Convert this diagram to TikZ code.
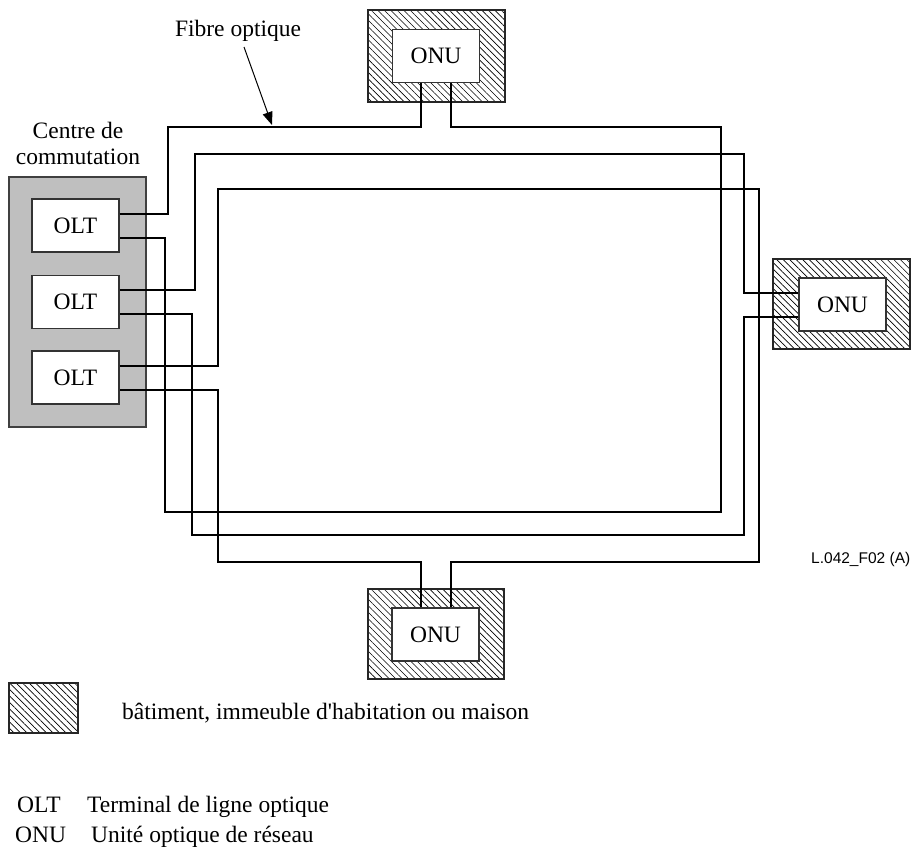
\documentclass[tikz,border=0pt]{standalone}
\usepackage{fontspec}
\setmainfont{Liberation Serif}[Ligatures=TeXOff]
\newfontfamily\arialfont{Liberation Sans}
\usetikzlibrary{patterns.meta,arrows.meta}
\begin{document}
\begin{tikzpicture}[x=1pt,y=-1pt,
  fibre/.style={line width=2pt, black},
  box/.style={draw=black!80, line width=1.3pt, fill=white, inner sep=0pt,
    minimum width=87pt, minimum height=53pt, font=\fontsize{23.5}{26}\selectfont},
  bldg/.style={draw=black!85, line width=1.3pt, inner sep=0pt,
    pattern={Lines[angle=-45,distance=4.6pt,line width=0.65pt]}},
  lbl/.style={font=\fontsize{23.5}{26}\selectfont, inner sep=0pt},
  centre/.style={draw=black!75, line width=1.3pt, fill=black!25, inner sep=0pt}
]
\useasboundingbox (0,0) rectangle (916,849);

% buildings (hatched)
\node[bldg, minimum width=137pt, minimum height=92pt] (bT) at (436.5,56) {};
\node[bldg, minimum width=137pt, minimum height=90pt] (bR) at (841.5,304) {};
\node[bldg, minimum width=136pt, minimum height=90pt] (bB) at (436,634) {};

% switching centre
\node[centre, minimum width=137pt, minimum height=250pt] (cc) at (77.5,302) {};
\node[lbl, align=center] (cctxt) at (78,143) {Centre de\\commutation};

% OLTs
\node[box] (olt1) at (75.5,225.5) {OLT};
\node[box] (olt2) at (75.5,302) {OLT};
\node[box] (olt3) at (75.5,377.5) {OLT};

% ONUs
\node[box] (onuT) at (436,56) {ONU};
\node[box] (onuR) at (842.5,304.5) {ONU};
\node[box] (onuB) at (435.5,634.5) {ONU};

% ring 1
\draw[fibre] ([yshift=12pt]olt1.east) -| (168,127) -| ([xshift=-15pt]onuT.south);
\draw[fibre] ([xshift=15pt]onuT.south) |- (721,127) |- (165,512) |- ([yshift=-12pt]olt1.east);
% ring 2
\draw[fibre] ([yshift=12pt]olt2.east) -| (195,154) -- (744,154) |- ([yshift=12pt]onuR.west);
\draw[fibre] ([yshift=-12pt]onuR.west) -| (744,535) -- (192,535) |- ([yshift=-12pt]olt2.east);
% ring 3
\draw[fibre] ([yshift=12pt]olt3.east) -| (218,189) -- (759,189) -- (759,562) -| ([xshift=15pt]onuB.north);
\draw[fibre] ([xshift=-15pt]onuB.north) |- (218,562) |- ([yshift=-12pt]olt3.east);

% fibre label
\node[lbl] (fo) at (238,31) {Fibre optique};
\coordinate (fotip) at (272,125);
\draw[line width=1pt, -{Triangle[length=13pt,width=10pt]}] (244,47) -- (fotip);

% figure id
\node[inner sep=0pt, anchor=base west, font=\arialfont\fontsize{15.5}{17}\selectfont] (fid) at (811,563) {L.042\_F02 (A)};

% legend
\node[bldg, minimum width=69pt, minimum height=50pt] (legbox) at (43.5,708) {};
\node[lbl, anchor=base west] (legtxt) at (122,719) {bâtiment, immeuble d'habitation ou maison};
\node[lbl, anchor=base west] (legolt) at (17,812) {OLT};
\node[lbl, anchor=base west] (legoltt) at (87,812) {Terminal de ligne optique};
\node[lbl, anchor=base west] (legonu) at (15,842) {ONU};
\node[lbl, anchor=base west] (legonut) at (91,842) {Unité optique de réseau};
\end{tikzpicture}
\end{document}
